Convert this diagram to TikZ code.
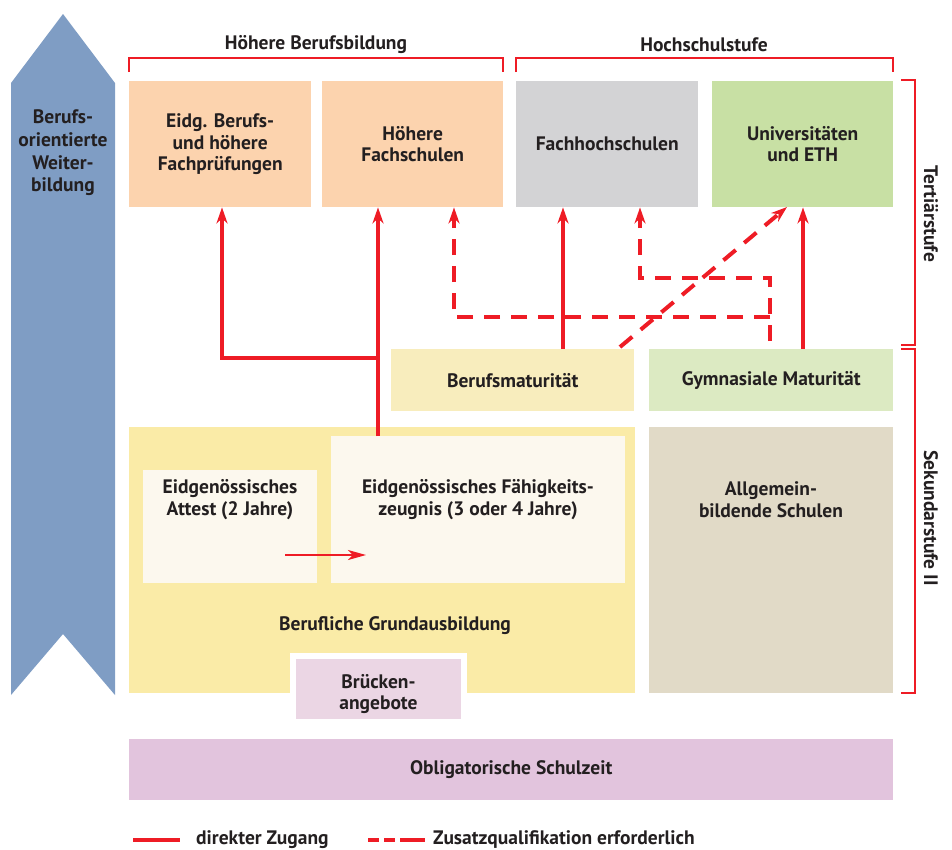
\documentclass[tikz,border=0pt]{standalone}
\usepackage{fontspec}
\setmainfont{PT Sans}
\usetikzlibrary{arrows.meta}
\definecolor{txt}{HTML}{231F20}
\definecolor{peach}{HTML}{FCD3AE}
\definecolor{grayb}{HTML}{D3D3D5}
\definecolor{greenb}{HTML}{C8E0A4}
\definecolor{bmyellow}{HTML}{F8EDBD}
\definecolor{gymgreen}{HTML}{DCEAC2}
\definecolor{bigyellow}{HTML}{FAEBA7}
\definecolor{offwhite}{HTML}{FCF8EE}
\definecolor{allgem}{HTML}{E1DAC7}
\definecolor{bruecke}{HTML}{EBD6E4}
\definecolor{oblig}{HTML}{E2C4DD}
\definecolor{blueb}{HTML}{7F9DC4}
\definecolor{redl}{HTML}{EE1C25}
\begin{document}
\begin{tikzpicture}[x=1pt,y=-1pt,
  every node/.style={font=\fontsize{19.5}{21.8}\selectfont\bfseries, text=txt, align=center, inner sep=0pt},
  box/.style={rectangle, anchor=north west},
  direct/.style={draw=redl, line width=4pt, -{Stealth[length=16pt,width=11pt,inset=5pt]}},
  extra/.style={draw=redl, line width=4pt, dash pattern=on 16pt off 11pt, -{Stealth[length=16pt,width=11pt,inset=5pt]}},
  plain/.style={draw=redl, line width=4pt},
  bracket/.style={draw=redl, line width=1.3pt}]
\useasboundingbox (0,0) rectangle (952,849);

% blue arrow
\fill[blueb] (11,83) -- (63,14) -- (115,83) -- (115,695) -- (63,634) -- (11,695) -- cycle;
\node[font=\fontsize{19.5}{22.7}\selectfont\bfseries] (weiter) at (63,153) {Berufs-\\orientierte\\Weiter-\\bildung};

% brackets top
\draw[bracket] (129,72) -- (129,58) -- (503,58) -- (503,72);
\node (hbb) at (316,45) {Höhere Berufsbildung};
\draw[bracket] (516,72) -- (516,58) -- (893,58) -- (893,72);
\node (hs) at (704,45) {Hochschulstufe};

% brackets right
\draw[bracket] (901,80) -- (915,80) -- (915,345) -- (901,345);
\node[rotate=-90] (tert) at (931,214) {Tertiärstufe};
\draw[bracket] (901,349) -- (915,349) -- (915,693) -- (901,693);
\node[rotate=-90] (sek) at (931,518) {Sekundarstufe II};

% tertiary boxes
\node[box, fill=peach, minimum width=182pt, minimum height=126pt] (eidg) at (129,81) {};
\node at (eidg.center) {Eidg. Berufs-\\und höhere\\Fachprüfungen};
\node[box, fill=peach, minimum width=181pt, minimum height=126pt] (hfs) at (322,81) {};
\node at (hfs.center) {Höhere\\Fachschulen};
\node[box, fill=grayb, minimum width=182pt, minimum height=126pt] (fh) at (516,81) {};
\node at (fh.center) {Fachhochschulen};
\node[box, fill=greenb, minimum width=181pt, minimum height=126pt] (uni) at (712,81) {};
\node at (uni.center) {Universitäten\\und ETH};

% maturity boxes
\node[box, fill=bmyellow, minimum width=243pt, minimum height=62pt] (bm) at (391,349) {};
\node at (bm.center) {Berufsmaturität};
\node[box, fill=gymgreen, minimum width=244pt, minimum height=62pt] (gm) at (649,349) {};
\node at (gm.center) {Gymnasiale Maturität};

% secondary
\node[box, fill=bigyellow, minimum width=506pt, minimum height=266pt] (bg) at (129,427) {};
\node (bgtext) at (395,626) {Berufliche Grundausbildung};
\node[box, fill=offwhite, minimum width=174pt, minimum height=113pt] (att) at (143,470) {};
\node (atttext) at (230,500) {Eidgenössisches\\Attest (2 Jahre)};
\node[box, fill=offwhite, minimum width=294pt, minimum height=147pt] (efz) at (331,436) {};
\node (efztext) at (478,500) {Eidgenössisches Fähigkeits-\\zeugnis (3 oder 4 Jahre)};
\node[box, fill=allgem, minimum width=244pt, minimum height=266pt] (ab) at (649,427) {};
\node (abtext) at (771,500) {Allgemein-\\bildende Schulen};

\node[box, fill=bruecke, draw=white, line width=6pt, minimum width=171pt, minimum height=66pt, anchor=center] (br) at (378.5,689) {};
\node at (378.5,694) {Brücken-\\angebote};

\node[box, fill=oblig, minimum width=764pt, minimum height=61pt] (os) at (129,739) {};
\node at (os.center) {Obligatorische Schulzeit};

% small arrow
\coordinate (sa1) at (285,555);
\coordinate (sa2) at (366,555);
\draw[draw=redl, line width=1.6pt, -{Stealth[length=18pt,width=10pt,inset=5pt]}] (sa1) -- (sa2);

% connectors: direct
\coordinate (j1) at (378,358);
\coordinate (j2) at (222,358);
\draw[plain] (efz.north -| j1) -- (j1);
\draw[direct] (j1) -- (j2) -- (eidg.south -| j2);
\draw[direct] (j1) -- (hfs.south -| j1);
\draw[direct] (bm.north -| 563,0) -- (fh.south -| 563,0);
\draw[direct] (gm.north -| 803,0) -- (uni.south -| 803,0);

% connectors: additional qualification
\coordinate (g0) at (770,341);
\coordinate (g1) at (770,278);
\coordinate (g2) at (640,278);
\coordinate (h1) at (770,317);
\coordinate (h2) at (454,317);
\draw[extra] (g0) -- (g1) -- (g2) -- (fh.south -| g2);
\draw[extra] (h1) -- (h2) -- (hfs.south -| h2);
\coordinate (d0) at (620,347);
\coordinate (d1) at (787,207);
\draw[extra] (d0) -- (d1);

% legend
\coordinate (l1) at (133,840);
\coordinate (l2) at (180,840);
\draw[draw=redl, line width=4.5pt] (l1) -- (l2);
\node[anchor=west] (leg1) at (196,840) {direkter Zugang};
\coordinate (l3) at (368,840);
\coordinate (l4) at (425,840);
\draw[draw=redl, line width=4.5pt, dash pattern=on 11pt off 5pt on 11pt off 5pt on 25pt off 5pt] (l3) -- (l4);
\node[anchor=west] (leg2) at (433,840) {Zusatzqualifikation erforderlich};
\end{tikzpicture}
\end{document}
